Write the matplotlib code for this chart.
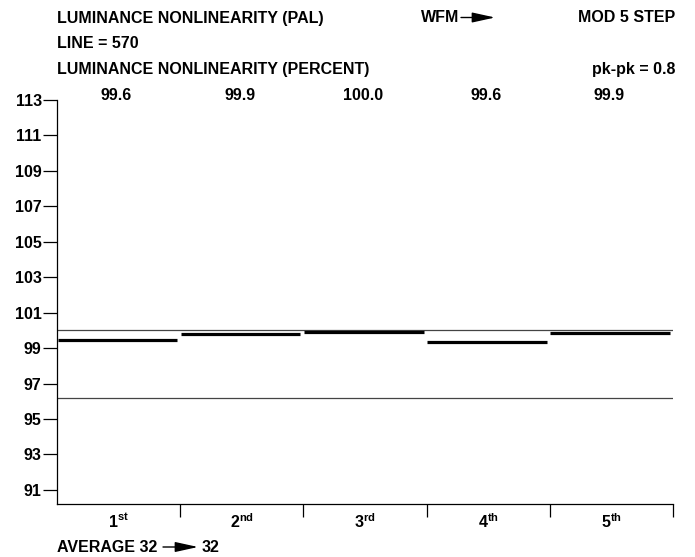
import matplotlib
matplotlib.use("Agg")
import matplotlib.pyplot as plt
from matplotlib.patches import FancyArrowPatch
import numpy as np

plt.rcParams['font.family'] = ['Liberation Sans', 'DejaVu Sans']
plt.rcParams['font.weight'] = 'bold'
plt.rcParams['mathtext.fontset'] = 'custom'
plt.rcParams['mathtext.rm'] = 'Liberation Sans:bold'
plt.rcParams['mathtext.bf'] = 'Liberation Sans:bold'
plt.rcParams['mathtext.it'] = 'Liberation Sans:bold'

# Data
steps = ["1", "2", "3", "4", "5"]
suffixes = ["st", "nd", "rd", "th", "th"]
value_labels = ["99.6", "99.9", "100.0", "99.6", "99.9"]
levels = [99.45, 99.8, 99.9, 99.35, 99.85]
ref_upper = 100.0
ref_lower = 96.2
yticks = [91, 93, 95, 97, 99, 101, 103, 105, 107, 109, 111, 113]

FS = 11.5

fig = plt.figure(figsize=(6.95, 5.57), dpi=100)
ax = fig.add_axes([57/695, 1-504/557, 616/695, 404/557])

n = len(steps)
ax.set_xlim(0, n)
ax.set_ylim(90.2, 113)

# reference lines
ax.axhline(ref_upper, color='#444444', lw=0.9)
ax.axhline(ref_lower, color='#444444', lw=0.9)

# step segments
for i, lv in enumerate(levels):
    ax.hlines(lv, i + 0.005, i + 0.975, color='black', lw=2.3)

for s in ['top', 'right']:
    ax.spines[s].set_visible(False)
ax.spines['left'].set_linewidth(0.9)
ax.spines['bottom'].set_linewidth(0.9)

ax.set_yticks(yticks)
ax.set_yticklabels([str(t) for t in yticks])
ax.tick_params(axis='y', direction='out', length=10, width=0.9, pad=1, labelsize=FS)

ax.set_xticks(np.arange(n) + 0.5)
ax.set_xticklabels([r'$\mathbf{%s^{%s}}$' % (s, suf) for s, suf in zip(steps, suffixes)])
ax.set_xticks(np.arange(1, n + 1), minor=True)
ax.tick_params(axis='x', which='major', length=0, pad=6, labelsize=FS)
ax.tick_params(axis='x', which='minor', direction='out', length=9.5, width=0.9)

def fx(px):
    return px / 695
def fy(py):
    return 1 - py / 557

# value labels above plot
for i, lab in enumerate(value_labels):
    xd = ax.transData.transform((i + 0.5, 0))[0]
    fig.text(xd / fig.bbox.width - 2 / 695, fy(95.5), lab,
             ha='center', va='center', fontsize=FS, fontweight='bold')

ARROW = '-|>,head_length=1.0,head_width=0.22'

fig.text(fx(57), fy(18), "LUMINANCE NONLINEARITY (PAL)", ha='left', va='center', fontsize=FS, fontweight='bold')
fig.text(fx(421), fy(18), "WFM", ha='left', va='center', fontsize=FS, fontweight='bold')
fig.add_artist(FancyArrowPatch((fx(461), fy(17.5)), (fx(495), fy(17.5)),
               transform=fig.transFigure, arrowstyle=ARROW,
               mutation_scale=14, color='black', lw=1, shrinkA=0, shrinkB=0))
fig.text(fx(675), fy(18), "MOD 5 STEP", ha='right', va='center', fontsize=FS, fontweight='bold')
fig.text(fx(57), fy(44), "LINE = 570", ha='left', va='center', fontsize=FS, fontweight='bold')
fig.text(fx(57), fy(69.5), "LUMINANCE NONLINEARITY (PERCENT)", ha='left', va='center', fontsize=FS, fontweight='bold')
fig.text(fx(675), fy(69.5), "pk-pk = 0.8", ha='right', va='center', fontsize=FS, fontweight='bold')

fig.text(fx(57), fy(547.5), "AVERAGE 32", ha='left', va='center', fontsize=FS, fontweight='bold')
fig.add_artist(FancyArrowPatch((fx(163), fy(547)), (fx(198), fy(547)),
               transform=fig.transFigure, arrowstyle=ARROW,
               mutation_scale=14, color='black', lw=1, shrinkA=0, shrinkB=0))
fig.text(fx(202), fy(548), "32", ha='left', va='center', fontsize=FS, fontweight='bold')

fig.savefig("out.png", dpi=100)
